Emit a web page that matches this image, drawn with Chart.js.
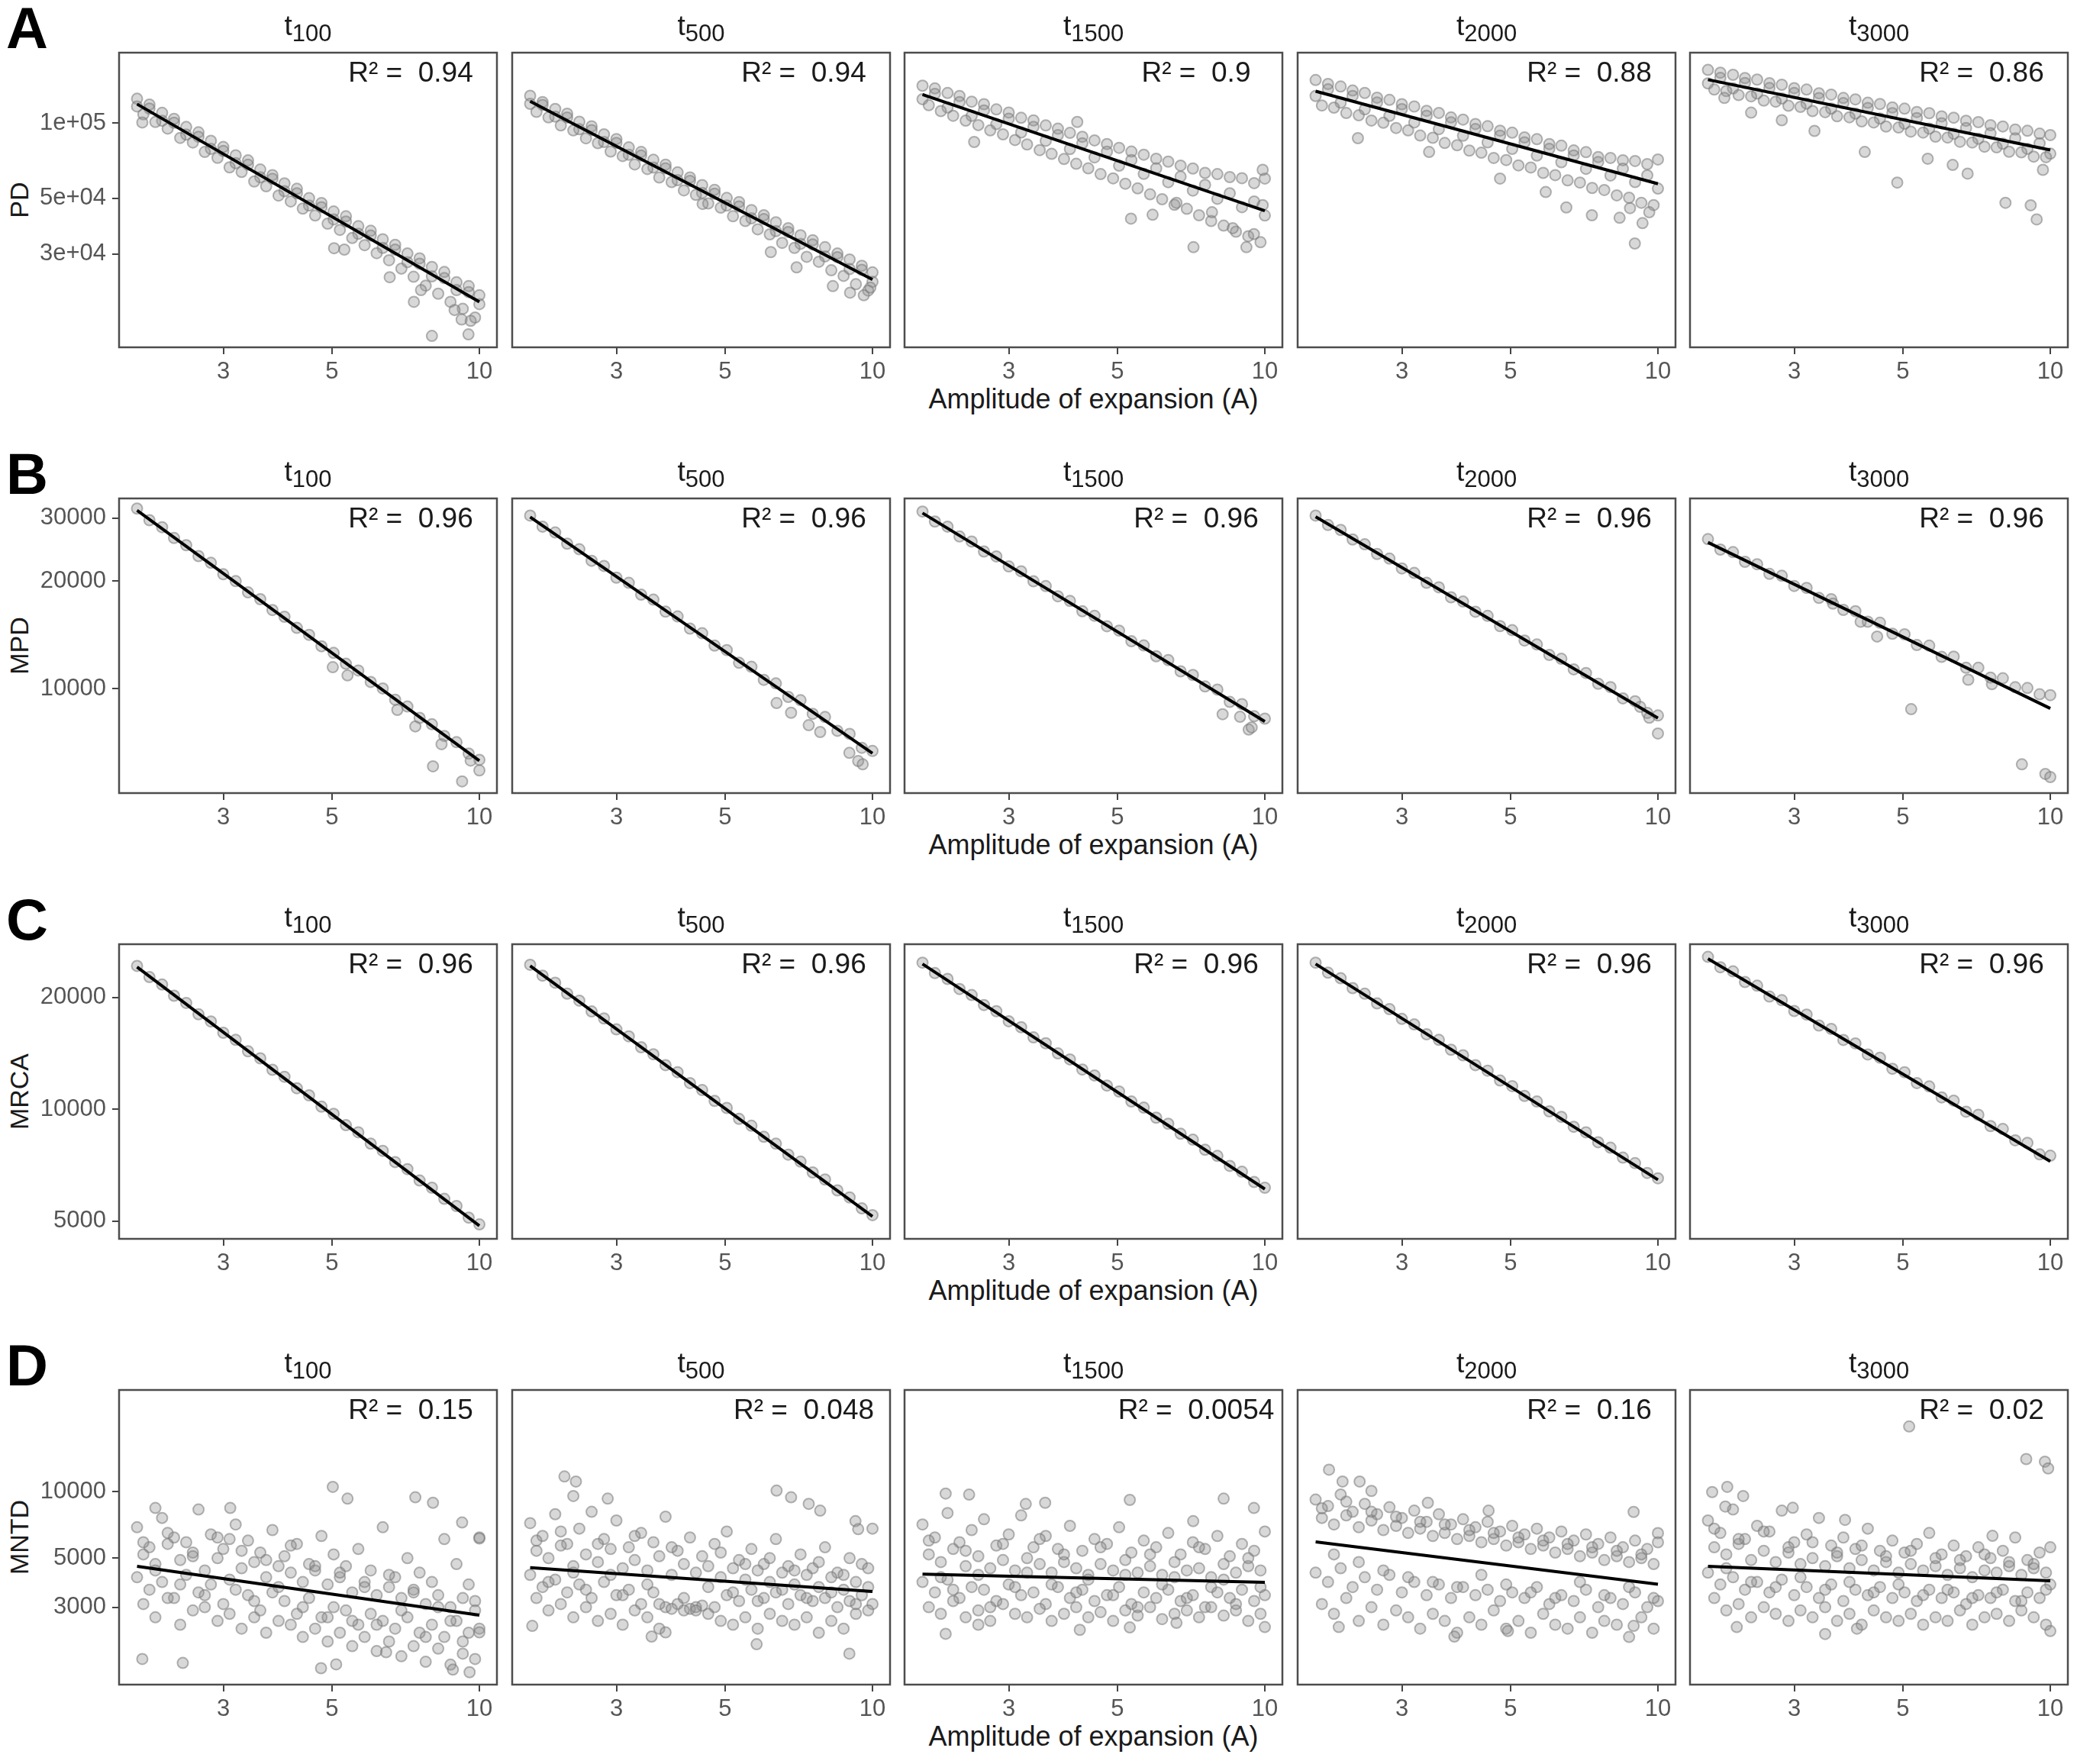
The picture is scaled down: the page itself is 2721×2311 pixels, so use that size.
<!DOCTYPE html>
<html>
<head>
<meta charset="utf-8">
<title>Amplitude of expansion</title>
<script src="https://cdn.jsdelivr.net/npm/chart.js@4.4.1/dist/chart.umd.min.js"></script>
<style>
  html, body { margin: 0; padding: 0; background: #fff; }
  #fig { position: relative; width: 2721px; height: 2311px; overflow: hidden; font-family: "Liberation Sans", Arial, sans-serif; }
  #fig canvas { position: absolute; }
  .letter { position: absolute; left: 8px; font-weight: bold; font-size: 76px; line-height: 76px; color: #000; }
  .strip { position: absolute; width: 400px; text-align: center; font-size: 37px; line-height: 37px; color: #1a1a1a; white-space: nowrap; }
  .strip span { font-size: 31px; position: relative; top: 8px; }
  .r2 { position: absolute; width: 400px; text-align: center; font-size: 37px; line-height: 37px; color: #1a1a1a; white-space: pre; }
  .ytitle { position: absolute; width: 400px; text-align: center; font-size: 34px; line-height: 34px; color: #1a1a1a; transform: rotate(-90deg); }
  .xtitle { position: absolute; left: 156px; width: 2553px; text-align: center; font-size: 36px; line-height: 36px; color: #1a1a1a; }
</style>
</head>
<body>
<div id="fig"></div>
<script>
// amplitude of expansion
const X_A = [2.0, 2.12, 2.25, 2.38, 2.52, 2.67, 2.83, 3.0, 3.18, 3.37, 3.57, 3.78, 4.0, 4.24, 4.49, 4.76, 5.04, 5.34, 5.66, 6.0, 6.35, 6.73, 7.13, 7.55, 8.0, 8.48, 8.98, 9.51, 10.0];
const X_B = [2.06, 2.18, 2.31, 2.45, 2.6, 2.75, 2.92, 3.09, 3.27, 3.47, 3.67, 3.89, 4.12, 4.36, 4.62, 4.9, 5.19, 5.5, 5.83, 6.17, 6.54, 6.93, 7.34, 7.77, 8.24, 8.73, 9.25, 9.8];
const X_RANGE = [1.838, 10.86];
const X_TICKS = [3, 5, 10];
const TIMES = ["100", "500", "1500", "2000", "3000"];

// ---- A: PD ----
const PD_RANGE = [12700, 191000];
const PD_TICKS = [30000, 50000, 100000];
const PD_TICK_LABELS = ["3e+04", "5e+04", "1e+05"];
const PD_R2 = ["0.94", "0.94", "0.9", "0.88", "0.86"];
const PD_FIT_START = [119000, 122000, 130000, 134000, 149000];
const PD_FIT_END = [19300, 23700, 44600, 57200, 78000];

const PD_T100_HI = [125000, 118500, 109800, 103900, 96400, 91800, 84900, 80200, 74300, 70900, 65200, 61900, 57400, 54600, 50100, 47900, 44300, 42400, 38700, 37100, 34300, 32600, 30100, 28800, 26600, 25400, 23100, 22300, 20500];
const PD_T100_MID = [116500, 114200, 102100, 100300, 89900, 88100, 78800, 77300, 69100, 68100, 60700, 59800, 53400, 52400, 46800, 46100, 41200, 40400, 36100, 35500, 31700, 31200, 27800, 27400, 24400, 24000, 21500, 21100, 18900];
const PD_T100_LO = [108300, 100900, 95000, 87200, 83600, 76600, 72600, 66500, 63700, 58400, 55900, 51300, 48600, 45500, 42700, 39600, 37400, 34700, 32500, 30200, 28300, 26200, 24300, 22400, 20800, 19300, 18100, 16700];
const PD_T100_OUT = [[2.05, 100500], [5.05, 31600], [5.3, 31200], [6.56, 24200], [7.35, 19300], [7.6, 21500], [8.0, 14100], [8.9, 17900], [9.2, 16400], [9.5, 14300], [9.6, 16200]];

const PD_T500_HI = [128500, 121300, 113800, 108900, 101200, 97000, 90100, 86300, 79900, 76600, 71300, 68200, 63500, 60600, 56500, 54100, 50200, 48300, 44900, 42800, 40100, 38000, 35600, 34000, 31900, 30100, 28500, 26900, 25300];
const PD_T500_MID = [119300, 118100, 106100, 105200, 94400, 93700, 84000, 83300, 74700, 74100, 66400, 65900, 59100, 58700, 52600, 52200, 46800, 46400, 41600, 41300, 37000, 36700, 32900, 32700, 29300, 29100, 26100, 25900, 23200];
const PD_T500_LO = [110800, 105300, 97800, 93400, 86900, 83100, 76900, 73800, 68300, 65500, 60600, 58100, 53800, 51600, 47700, 45900, 42400, 40600, 37600, 35900, 33200, 31700, 29200, 27900, 25800, 24500, 22700, 21400];
const PD_T500_OUT = [[4.5, 47500], [6.2, 30500], [7.0, 26500], [8.3, 22300], [9.0, 21000], [9.6, 20500], [9.9, 22000]];

const PD_T1500_HI = [141000, 137500, 131800, 128200, 121700, 118900, 113300, 110100, 104900, 102400, 97800, 94900, 91300, 88100, 85200, 82400, 79600, 76900, 74700, 72000, 70100, 67600, 65800, 63200, 62500, 60800, 60200, 57500, 60000];
const PD_T1500_MID = [124500, 130800, 115300, 121200, 106800, 112300, 99000, 104000, 91700, 96500, 84900, 89400, 78700, 82900, 72900, 76800, 67500, 71100, 62600, 65900, 58000, 61100, 53700, 56600, 49800, 52400, 46100, 48600, 42700];
const PD_T1500_LO = [117800, 111600, 106900, 102200, 98100, 93400, 90100, 85500, 82100, 77900, 75300, 71800, 68700, 65900, 62500, 60100, 57200, 54800, 51900, 49600, 47100, 45400, 42800, 40600, 38900, 36800, 35300, 33400];
const PD_T1500_OUT = [[2.55, 84000], [4.14, 101000], [5.33, 41500], [5.9, 43000], [6.6, 48000], [7.15, 31900], [7.8, 44000], [8.6, 38000], [9.17, 31900], [9.5, 36000], [9.9, 47000], [9.9, 65000]];

const PD_T2000_HI = [148500, 143200, 139900, 134800, 131900, 126300, 123700, 118900, 116400, 111900, 109700, 105300, 103200, 99100, 97100, 93200, 91500, 87600, 86200, 82400, 81200, 77700, 76500, 73100, 72500, 71000, 70500, 68500, 71500];
const PD_T2000_MID = [128200, 136300, 120600, 128300, 113400, 120700, 106800, 113600, 100500, 106800, 94500, 100600, 89000, 94600, 83700, 89000, 78800, 83700, 74100, 78800, 69700, 74200, 65600, 69800, 61700, 65700, 58100, 61800, 54700];
const PD_T2000_LO = [117500, 115200, 109600, 107300, 102300, 100200, 95500, 93400, 89100, 87300, 83200, 81500, 77600, 76100, 72500, 71100, 67700, 66400, 63200, 61900, 59000, 57800, 55000, 54000, 51400, 50300, 48000, 47000];
const PD_T2000_OUT = [[2.44, 87000], [3.41, 76600], [4.76, 60000], [5.9, 53000], [6.5, 46000], [7.33, 42800], [8.35, 41800], [8.77, 45700], [8.97, 33000], [9.3, 39800], [9.6, 44000]];

const PD_T3000_HI = [163000, 158900, 155800, 151200, 149100, 144300, 142200, 137900, 136000, 131500, 129900, 125900, 124300, 120500, 119100, 115400, 114100, 110700, 109500, 106300, 105000, 102100, 100800, 98000, 96900, 94200, 93100, 90700, 89500];
const PD_T3000_MID = [144000, 151400, 137500, 144600, 131200, 138000, 125300, 131800, 119600, 125800, 114200, 120100, 109100, 114700, 104200, 109500, 99400, 104600, 95000, 99800, 90600, 95400, 86600, 91000, 82600, 86900, 78900, 83000, 75400];
const PD_T3000_LO = [136000, 134200, 129300, 127800, 122900, 121700, 117200, 116000, 111600, 110500, 106400, 105400, 101500, 100500, 96800, 95900, 92400, 91600, 88200, 87500, 84200, 83600, 80400, 79900, 76800, 76400, 73400, 73000];
const PD_T3000_OUT = [[2.16, 126000], [2.45, 110000], [2.83, 102600], [3.3, 93000], [4.18, 76600], [4.87, 57800], [5.62, 72000], [6.32, 68000], [6.78, 62800], [8.1, 48000], [9.12, 46900], [9.38, 41200], [9.66, 65000]];

// ---- B: MPD ----
const MPD_RANGE = [5110, 34050];
const MPD_TICKS = [10000, 20000, 30000];
const MPD_TICK_LABELS = ["10000", "20000", "30000"];
const MPD_R2 = ["0.96", "0.96", "0.96", "0.96", "0.96"];
const MPD_FIT_START = [31520, 30220, 31000, 30250, 25650];
const MPD_FIT_END = [6290, 6600, 8100, 8280, 8810];

const MPD_T100 = [31900, 29600, 28300, 26400, 25200, 23500, 22500, 20900, 20000, 18600, 17800, 16600, 15900, 14800, 14150, 13150, 12600, 11750, 11250, 10450, 10020, 9320, 8920, 8290, 7960, 7380, 7090, 6590, 6330];
const MPD_T100_OUT = [[5.02, 11490], [5.38, 10900], [6.8, 8730], [7.4, 7850], [8.04, 6070], [8.37, 7000], [9.22, 5510], [9.6, 6300], [10.0, 5915]];
const MPD_T500 = [30500, 28400, 27350, 25450, 24550, 22800, 22050, 20450, 19780, 18330, 17750, 16430, 15930, 14730, 14300, 13200, 12830, 11820, 11520, 10590, 10350, 9490, 9290, 8510, 8340, 7630, 7480, 6840, 6700];
const MPD_T500_OUT = [[6.37, 9120], [6.82, 8570], [7.41, 7910], [7.82, 7570], [8.97, 6620], [9.35, 6280], [9.55, 6150]];
const MPD_T1500 = [31300, 29350, 28400, 26650, 25800, 24200, 23450, 21980, 21310, 19970, 19370, 18140, 17600, 16470, 16000, 14960, 14540, 13580, 13220, 12330, 12030, 11190, 10930, 10150, 9950, 9190, 9060, 8380, 8250];
const MPD_T1500_OUT = [[8.2, 8490], [8.9, 8350], [9.27, 7690], [9.4, 7800]];
const MPD_T2000 = [30500, 28700, 27800, 26150, 25350, 23820, 23120, 21700, 21080, 19780, 19220, 18020, 17530, 16420, 15990, 14970, 14580, 13640, 13300, 12430, 12130, 11330, 11070, 10330, 10110, 9400, 9230, 8560, 8420];
const MPD_T2000_OUT = [[9.2, 8900], [9.6, 8300], [10.0, 7500]];
const MPD_T3000 = [26200, 24500, 24100, 22650, 22300, 20950, 20700, 19380, 19150, 17950, 17800, 16620, 16480, 15400, 15300, 14250, 14200, 13250, 13200, 12280, 12300, 11450, 11450, 10750, 10700, 10100, 10050, 9650, 9600];
const MPD_T3000_OUT = [[3.6, 17300], [4.1, 15400], [4.43, 14000], [5.2, 8770], [6.8, 10600], [7.6, 10300], [8.75, 6150], [9.77, 5780], [10.0, 5665]];

// ---- C: MRCA ----
const MRCA_RANGE = [4480, 27800];
const MRCA_TICKS = [5000, 10000, 20000];
const MRCA_TICK_LABELS = ["5000", "10000", "20000"];
const MRCA_R2 = ["0.96", "0.96", "0.96", "0.96", "0.96"];
const MRCA_FIT_START = [24130, 24320, 24600, 24600, 25400];
const MRCA_FIT_END = [4860, 5150, 6100, 6460, 7240];

const MRCA_T100 = [24300, 22680, 21650, 20200, 19320, 18010, 17230, 16060, 15370, 14320, 13710, 12770, 12230, 11390, 10900, 10160, 9720, 9060, 8670, 8080, 7730, 7210, 6900, 6430, 6150, 5740, 5490, 5110, 4900];
const MRCA_T500 = [24480, 22880, 21900, 20470, 19600, 18330, 17550, 16400, 15710, 14680, 14060, 13140, 12580, 11760, 11260, 10530, 10080, 9420, 9030, 8430, 8080, 7550, 7230, 6760, 6470, 6050, 5790, 5410, 5190];
const MRCA_T1500 = [24800, 23250, 22420, 21060, 20290, 19070, 18360, 17250, 16620, 15610, 15050, 14130, 13620, 12790, 12330, 11580, 11160, 10490, 10100, 9490, 9140, 8590, 8280, 7780, 7490, 7040, 6790, 6370, 6150];
const MRCA_T2000 = [24800, 23300, 22520, 21180, 20460, 19260, 18600, 17500, 16910, 15910, 15370, 14460, 13970, 13140, 12700, 11950, 11540, 10860, 10490, 9870, 9540, 8970, 8670, 8150, 7880, 7410, 7160, 6740, 6520];
const MRCA_T3000 = [25700, 24100, 23500, 22000, 21500, 20100, 19650, 18380, 17980, 16800, 16450, 15360, 15040, 14040, 13760, 12850, 12580, 11760, 11520, 10760, 10550, 9850, 9660, 9010, 8850, 8250, 8120, 7560, 7500];

// ---- D: MNTD ----
const MNTD_RANGE = [1340, 28800];
const MNTD_TICKS = [3000, 5000, 10000];
const MNTD_TICK_LABELS = ["3000", "5000", "10000"];
const MNTD_R2 = ["0.15", "0.048", "0.0054", "0.16", "0.02"];
const MNTD_FIT_START = [4590, 4530, 4230, 5920, 4590];
const MNTD_FIT_END = [2760, 3535, 3890, 3810, 3950];

const MNTD_T100_A = [6900, 5600, 7600, 6200, 5900, 8300, 6400, 5500, 7100, 6000, 5300, 6700, 5100, 5800, 4700, 6300, 5200, 4600, 5500, 4400, 6900, 4100, 5000, 4300, 3900, 6100, 4700, 3800, 6200];
const MNTD_T100_B = [5200, 4700, 5800, 4900, 5300, 4400, 5000, 6100, 4500, 4800, 4100, 4600, 4300, 3900, 4400, 3800, 4100, 3500, 3900, 3400, 3700, 3300, 3600, 3100, 3400, 3000, 3300, 3200];
const MNTD_T100_C = [4100, 3600, 3900, 3300, 4200, 3500, 3800, 3100, 3600, 3400, 2900, 3500, 3200, 2800, 3300, 2700, 3000, 2900, 2500, 2800, 2600, 2400, 2700, 2300, 2500, 2200, 2600, 2300, 2400];
const MNTD_T100_D = [3100, 2700, 3300, 2500, 2900, 3000, 2600, 2800, 2400, 2700, 2300, 2600, 2500, 2200, 2400, 2100, 2300, 2000, 2200, 1900, 2100, 1800, 2000, 1700, 1950, 1650, 1850, 1750];
const MNTD_T100_E = [5900, 4400, 6500, 3800, 5100, 3400, 6200, 4000, 5400, 3200, 4900, 3700, 5700, 3000, 4600, 2700, 4300, 2600, 3700, 2500, 4200, 2900, 3500, 2200, 3000, 2600, 2100, 2900];
const MNTD_T100_OUT = [[2.18, 8430], [3.1, 8430], [5.02, 10500], [5.38, 9290], [7.4, 9420], [8.04, 8900], [9.22, 7250], [10.0, 6140], [2.05, 1750], [2.48, 1680], [4.75, 1590], [5.1, 1655], [6.45, 1877], [8.83, 1567], [9.55, 1525], [10.0, 2310]];

const MNTD_T500_A = [7200, 6300, 7900, 5800, 6800, 8100, 6100, 7400, 5600, 6500, 5900, 7700, 5400, 6200, 5100, 5800, 6600, 4900, 5500, 4700, 6100, 4600, 5200, 4500, 5600, 4300, 5000, 4700, 6800];
const MNTD_T500_B = [5400, 5000, 5700, 4600, 5200, 4800, 5500, 4500, 4900, 4400, 5100, 4200, 4700, 4300, 4600, 4100, 4500, 4000, 4400, 3900, 4300, 3800, 4200, 3700, 4100, 3600, 3900, 3700];
const MNTD_T500_C = [4200, 3700, 4000, 3500, 3800, 3300, 3900, 3400, 3600, 3100, 3500, 3000, 3100, 2950, 3050, 3000, 3400, 3200, 3600, 3300, 3500, 3100, 3400, 3200, 3300, 3000, 3200, 3400, 3100];
const MNTD_T500_D = [3300, 2900, 3100, 2700, 3000, 2600, 2800, 2500, 2900, 2700, 2400, 2950, 2900, 3000, 2800, 2600, 2500, 2700, 2400, 2800, 2600, 2500, 2700, 2300, 2600, 2400, 2800, 2900];
const MNTD_T500_E = [6000, 3900, 6600, 4300, 3600, 5800, 4200, 3400, 6300, 3800, 3100, 5600, 3300, 2900, 3700, 5300, 3500, 4700, 3200, 5000, 3600, 4400, 3300, 4800, 3500, 4200, 3100, 4500];
const MNTD_T500_OUT = [[2.35, 11700], [2.48, 11100], [2.45, 9550], [2.88, 9290], [6.37, 10100], [6.82, 9420], [7.41, 8800], [7.82, 8200], [9.23, 7350], [9.35, 6760], [2.02, 2470], [3.54, 2210], [3.78, 2310], [5.8, 2040], [8.97, 1850]];

const MNTD_T1500_A = [7100, 6200, 8000, 5900, 6700, 7500, 5700, 6400, 7800, 5600, 6300, 5500, 7000, 5400, 6100, 5800, 6900, 5300, 6000, 5600, 6500, 5200, 5900, 5500, 6300, 5100, 5800, 5400, 6600];
const MNTD_T1500_B = [5200, 4800, 5500, 4600, 5100, 4500, 4900, 4400, 5000, 4700, 4300, 4800, 4500, 4200, 4700, 4400, 4900, 4300, 4600, 4200, 4800, 4400, 4500, 4100, 4700, 4300, 4600, 4400];
const MNTD_T1500_C = [3900, 3500, 4000, 3300, 3700, 3600, 3200, 3800, 3400, 3500, 3100, 3700, 3300, 3600, 3200, 3400, 3700, 3100, 3500, 3300, 3600, 3200, 3400, 3000, 3500, 3300, 3600, 3200, 3400];
const MNTD_T1500_D = [3000, 2800, 3200, 2700, 2900, 2600, 3100, 2800, 2700, 2950, 2600, 2800, 3000, 2700, 2850, 2600, 2900, 2750, 3000, 2650, 2800, 2900, 2700, 3000, 2750, 2900, 2600, 2800];
const MNTD_T1500_E = [6000, 4100, 3600, 5400, 4200, 3000, 5800, 3700, 4300, 6100, 3800, 5200, 3500, 4000, 5600, 3400, 4200, 3000, 5200, 3800, 4100, 3300, 5600, 3700, 4000, 3100, 5000, 3700];
const MNTD_T1500_OUT = [[2.23, 9800], [2.49, 9690], [3.25, 8790], [3.56, 8900], [5.3, 9170], [8.24, 9290], [9.5, 8430], [7.14, 7350], [2.23, 2275], [2.6, 2500], [4.19, 2370], [5.3, 2430], [6.6, 2550], [10.0, 2440]];

const MNTD_T2000_A = [9200, 8600, 9700, 8100, 8800, 7900, 8500, 7600, 8200, 7300, 7900, 7100, 7500, 6900, 7300, 6600, 7000, 6400, 6800, 6200, 6600, 6000, 6400, 5800, 6200, 5600, 6000, 5500, 5900];
const MNTD_T2000_B = [7600, 7100, 7800, 6900, 7400, 6700, 7000, 6500, 6800, 6300, 6500, 6100, 6300, 5900, 6100, 5700, 5900, 5500, 5700, 5300, 5500, 5100, 5300, 4900, 5100, 4800, 5000, 4700];
const MNTD_T2000_C = [4300, 3900, 4500, 3700, 4100, 3600, 4200, 3500, 3900, 3400, 3800, 3300, 3700, 3400, 3600, 3200, 3500, 3300, 3700, 3100, 3400, 3200, 3600, 3000, 3300, 3100, 3500, 3000, 3200];
const MNTD_T2000_D = [3100, 2800, 3300, 2600, 3000, 2500, 2900, 2700, 2400, 2800, 2600, 2300, 2700, 2500, 2900, 2400, 2600, 2300, 2800, 2500, 2400, 2700, 2300, 2600, 2500, 2200, 2700, 2400];
const MNTD_T2000_E = [8400, 5200, 9000, 4800, 8100, 4400, 7700, 4100, 7300, 3900, 7100, 3700, 6700, 4200, 6500, 3800, 6200, 3500, 6000, 3300, 5800, 3900, 5600, 3400, 5400, 3700, 5200, 3300];
const MNTD_T2000_OUT = [[2.13, 12560], [2.27, 11100], [2.46, 11100], [2.6, 10070], [3.39, 8900], [4.51, 8200], [8.92, 8090], [10.0, 6490], [2.23, 2440], [3.84, 2210], [4.94, 2340], [8.92, 2470]];

const MNTD_T3000_A = [7400, 6500, 8300, 6100, 7000, 6600, 8200, 5900, 6400, 7600, 5700, 6200, 5500, 6800, 5400, 6000, 5300, 5800, 6500, 5200, 5700, 5100, 5600, 5000, 5400, 6200, 4900, 5300, 5600];
const MNTD_T3000_B = [5600, 5200, 5800, 4900, 5400, 4800, 5300, 4700, 5000, 4600, 5100, 4500, 4900, 4400, 4800, 4300, 4700, 4400, 4600, 4200, 4500, 4100, 4400, 4300, 4600, 4200, 4500, 4300];
const MNTD_T3000_C = [4300, 3800, 4100, 3600, 3900, 3500, 4000, 3400, 3700, 3300, 3800, 3200, 3600, 3400, 3700, 3300, 3500, 3200, 3600, 3300, 3500, 3100, 3400, 3300, 3600, 3200, 3500, 3300, 3800];
const MNTD_T3000_D = [3300, 2900, 3100, 2700, 3000, 2800, 2600, 2900, 2700, 3000, 2600, 2800, 2500, 2900, 2700, 2600, 2800, 2500, 2700, 2600, 2900, 2500, 2700, 2800, 2600, 2900, 2700, 2500];
const MNTD_T3000_E = [6800, 4500, 6100, 3900, 6600, 3700, 5600, 4100, 5900, 3600, 5300, 3900, 5700, 3500, 5100, 3800, 5400, 3400, 5000, 3600, 4900, 3300, 5200, 3500, 4800, 3200, 4700, 3600];
const MNTD_T3000_OUT = [[5.15, 19700], [8.93, 14030], [9.75, 13650], [9.9, 12730], [2.04, 9950], [2.19, 10500], [2.36, 9550], [2.17, 8560], [2.98, 8450], [3.81, 7450], [7.62, 6310], [10.0, 2340], [3.47, 2270], [4.03, 2400], [2.29, 2440]];

// ---- layout (page pixels) ----
const PANEL_LEFT = [156, 671, 1185, 1700, 2214];
const ROW_TOP = [69, 653, 1237, 1821];
const PANEL_W = 495, PANEL_H = 386;
const PAD_T = 34, PAD_R = 26, PAD_B = 56;
const FONT = "'Liberation Sans', Arial, sans-serif";

function pts(xs, ys) { return ys.map((y, i) => ({ x: xs[i], y: y })); }
function pairs(list) { return list.map(p => ({ x: p[0], y: p[1] })); }

const rows = [
  { key: "A", title: "PD", range: PD_RANGE, ticks: PD_TICKS, labels: PD_TICK_LABELS, r2: PD_R2, fit0: PD_FIT_START, fit1: PD_FIT_END,
    clouds: [
      [pts(X_A, PD_T100_HI), pts(X_A, PD_T100_MID), pts(X_B, PD_T100_LO), pairs(PD_T100_OUT)],
      [pts(X_A, PD_T500_HI), pts(X_A, PD_T500_MID), pts(X_B, PD_T500_LO), pairs(PD_T500_OUT)],
      [pts(X_A, PD_T1500_HI), pts(X_A, PD_T1500_MID), pts(X_B, PD_T1500_LO), pairs(PD_T1500_OUT)],
      [pts(X_A, PD_T2000_HI), pts(X_A, PD_T2000_MID), pts(X_B, PD_T2000_LO), pairs(PD_T2000_OUT)],
      [pts(X_A, PD_T3000_HI), pts(X_A, PD_T3000_MID), pts(X_B, PD_T3000_LO), pairs(PD_T3000_OUT)],
    ] },
  { key: "B", title: "MPD", range: MPD_RANGE, ticks: MPD_TICKS, labels: MPD_TICK_LABELS, r2: MPD_R2, fit0: MPD_FIT_START, fit1: MPD_FIT_END,
    clouds: [
      [pts(X_A, MPD_T100), pairs(MPD_T100_OUT)],
      [pts(X_A, MPD_T500), pairs(MPD_T500_OUT)],
      [pts(X_A, MPD_T1500), pairs(MPD_T1500_OUT)],
      [pts(X_A, MPD_T2000), pairs(MPD_T2000_OUT)],
      [pts(X_A, MPD_T3000), pairs(MPD_T3000_OUT)],
    ] },
  { key: "C", title: "MRCA", range: MRCA_RANGE, ticks: MRCA_TICKS, labels: MRCA_TICK_LABELS, r2: MRCA_R2, fit0: MRCA_FIT_START, fit1: MRCA_FIT_END,
    clouds: [
      [pts(X_A, MRCA_T100)],
      [pts(X_A, MRCA_T500)],
      [pts(X_A, MRCA_T1500)],
      [pts(X_A, MRCA_T2000)],
      [pts(X_A, MRCA_T3000)],
    ] },
  { key: "D", title: "MNTD", range: MNTD_RANGE, ticks: MNTD_TICKS, labels: MNTD_TICK_LABELS, r2: MNTD_R2, fit0: MNTD_FIT_START, fit1: MNTD_FIT_END,
    clouds: [
      [pts(X_A, MNTD_T100_A), pts(X_B, MNTD_T100_B), pts(X_A, MNTD_T100_C), pts(X_B, MNTD_T100_D), pts(X_B, MNTD_T100_E), pairs(MNTD_T100_OUT)],
      [pts(X_A, MNTD_T500_A), pts(X_B, MNTD_T500_B), pts(X_A, MNTD_T500_C), pts(X_B, MNTD_T500_D), pts(X_B, MNTD_T500_E), pairs(MNTD_T500_OUT)],
      [pts(X_A, MNTD_T1500_A), pts(X_B, MNTD_T1500_B), pts(X_A, MNTD_T1500_C), pts(X_B, MNTD_T1500_D), pts(X_B, MNTD_T1500_E), pairs(MNTD_T1500_OUT)],
      [pts(X_A, MNTD_T2000_A), pts(X_B, MNTD_T2000_B), pts(X_A, MNTD_T2000_C), pts(X_B, MNTD_T2000_D), pts(X_B, MNTD_T2000_E), pairs(MNTD_T2000_OUT)],
      [pts(X_A, MNTD_T3000_A), pts(X_B, MNTD_T3000_B), pts(X_A, MNTD_T3000_C), pts(X_B, MNTD_T3000_D), pts(X_B, MNTD_T3000_E), pairs(MNTD_T3000_OUT)],
    ] },
];

const fig = document.getElementById("fig");

// ggplot-like panel border
const frame = {
  id: "frame",
  afterDatasetsDraw(chart) {
    const { ctx, chartArea: a } = chart;
    ctx.save();
    ctx.strokeStyle = "#4d4d4d";
    ctx.lineWidth = 2.5;
    ctx.strokeRect(a.left, a.top, a.right - a.left, a.bottom - a.top);
    ctx.restore();
  },
};

function addDiv(cls, html, left, top) {
  const d = document.createElement("div");
  d.className = cls;
  d.innerHTML = html;
  d.style.left = left + "px";
  d.style.top = top + "px";
  fig.appendChild(d);
  return d;
}

function makePanel(row, r, c) {
  const left = PANEL_LEFT[c], top = ROW_TOP[r];
  const padL = c === 0 ? 150 : 10;
  const cv = document.createElement("canvas");
  cv.width = padL + PANEL_W + PAD_R;
  cv.height = PAD_T + PANEL_H + PAD_B;
  cv.style.left = (left - padL) + "px";
  cv.style.top = (top - PAD_T) + "px";
  fig.appendChild(cv);

  const cloud = [].concat(...row.clouds[c]);
  const tickFont = { family: FONT, size: 31 };

  new Chart(cv, {
    type: "scatter",
    data: {
      datasets: [
        {
          type: "line",
          data: [{ x: 2, y: row.fit0[c] }, { x: 10, y: row.fit1[c] }],
          borderColor: "#000",
          borderWidth: 4,
          pointRadius: 0,
          order: 0,
        },
        {
          data: cloud,
          pointRadius: 7,
          backgroundColor: "rgba(140,140,140,0.34)",
          borderColor: "rgba(120,120,120,0.55)",
          borderWidth: 2,
          order: 1,
        },
      ],
    },
    options: {
      responsive: false,
      animation: false,
      devicePixelRatio: 1,
      events: [],
      layout: { padding: { left: 0, top: PAD_T, right: PAD_R, bottom: 0 } },
      plugins: { legend: { display: false }, tooltip: { enabled: false } },
      scales: {
        x: {
          type: "logarithmic",
          bounds: "data",
          min: X_RANGE[0],
          max: X_RANGE[1],
          afterBuildTicks: (s) => { s.ticks = X_TICKS.map(v => ({ value: v })); },
          afterFit: (s) => { s.height = PAD_B; },
          ticks: { autoSkip: false, maxRotation: 0, padding: 5, color: "#555", font: tickFont, callback: (v) => String(v) },
          grid: { drawOnChartArea: false, drawTicks: true, tickLength: 9, color: "#444", lineWidth: 2 },
          border: { display: false },
        },
        y: {
          type: "logarithmic",
          bounds: "data",
          min: row.range[0],
          max: row.range[1],
          afterBuildTicks: (s) => { s.ticks = row.ticks.map(v => ({ value: v })); },
          afterFit: (s) => { s.width = padL; },
          ticks: {
            display: c === 0,
            autoSkip: false,
            padding: 8,
            color: "#555",
            font: tickFont,
            callback: (v) => row.labels[row.ticks.indexOf(v)],
          },
          grid: { display: c === 0, drawOnChartArea: false, drawTicks: true, tickLength: 9, color: "#444", lineWidth: 2 },
          border: { display: false },
        },
      },
    },
    plugins: [frame],
  });

  addDiv("strip", "t<span>" + TIMES[c] + "</span>", left + PANEL_W / 2 - 200, top - 54);
  addDiv("r2", "R\u00b2 =  " + row.r2[c], left + 182, top + 7);
}

rows.forEach((row, r) => {
  const top = ROW_TOP[r];
  addDiv("letter", row.key, 8, top - 70);
  addDiv("ytitle", row.title, 25 - 200, top + PANEL_H / 2 - 17);
  addDiv("xtitle", "Amplitude of expansion (A)", 156, top + PANEL_H + 50);
  for (let c = 0; c < 5; c++) makePanel(row, r, c);
});
</script>
</body>
</html>
